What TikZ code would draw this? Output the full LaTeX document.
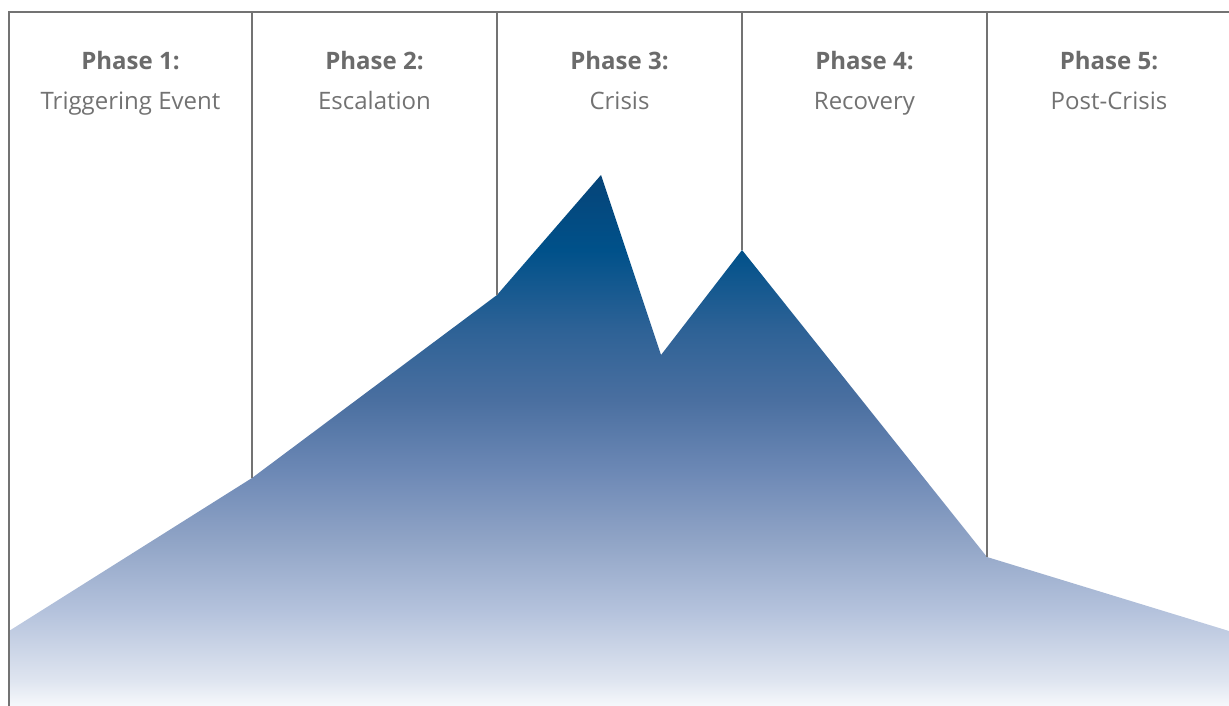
\documentclass[tikz,border=0pt]{standalone}
\usepackage{fontspec}
\setmainfont{Open Sans}
\definecolor{linegray}{HTML}{737373}
\definecolor{textgray}{HTML}{6B6B6B}
\definecolor{subgray}{HTML}{727272}
\definecolor{sA}{HTML}{F6F8FB}
\definecolor{sB}{HTML}{DFE5F0}
\definecolor{sC}{HTML}{B4C2DC}
\definecolor{sD}{HTML}{90A4C6}
\definecolor{sE}{HTML}{6C88B5}
\definecolor{sF}{HTML}{4A6FA0}
\definecolor{sG}{HTML}{2E6296}
\definecolor{sH}{HTML}{00518A}
\definecolor{sI}{HTML}{064478}
% bbox y 175..706 maps to 75bp..25bp
\pgfdeclareverticalshading{mountain}{100bp}{%
  color(0bp)=(sA); color(25bp)=(sA);
  color(27.4bp)=(sB); color(34bp)=(sC); color(40.6bp)=(sD);
  color(47.2bp)=(sE); color(53.8bp)=(sF); color(60.4bp)=(sG);
  color(67.9bp)=(sH); color(75bp)=(sI); color(100bp)=(sI)}
\tikzset{
  frame/.style={draw=linegray, line width=1.6pt},
  phasetitle/.style={anchor=base, text=textgray, font=\fontsize{24}{28}\selectfont\bfseries, inner sep=0pt},
  phasesub/.style={anchor=base, text=subgray, font=\fontsize{24}{28}\selectfont, inner sep=0pt},
}
\begin{document}
\begin{tikzpicture}[x=1pt, y=-1pt]
\useasboundingbox (0,0) rectangle (1229,706);
% mountain
\shade[shading=mountain] (9,631) -- (252,478) -- (497,295) -- (601,175) -- (661,355) -- (742,250) -- (987,557) -- (1229,631) -- (1229,706) -- (9,706) -- cycle;
% frame
\coordinate (tl) at (9,12);
\coordinate (tr) at (1229,12);
\coordinate (bl) at (9,706);
\draw[frame] (tr) -- (tl) -- (bl);
\coordinate (t1) at (252,12); \coordinate (b1) at (252,478);
\coordinate (t2) at (497,12); \coordinate (b2) at (497,295);
\coordinate (t3) at (742,12); \coordinate (b3) at (742,250);
\coordinate (t4) at (987,12); \coordinate (b4) at (987,557);
\draw[frame] (t1) -- (b1);
\draw[frame] (t2) -- (b2);
\draw[frame] (t3) -- (b3);
\draw[frame] (t4) -- (b4);
% labels
\node[phasetitle] (p1) at (130.5,70) {Phase 1:};
\node[phasesub] (s1) at (130.5,110) {Triggering Event};
\node[phasetitle] (p2) at (374.5,70) {Phase 2:};
\node[phasesub] (s2) at (374.5,110) {Escalation};
\node[phasetitle] (p3) at (619.5,70) {Phase 3:};
\node[phasesub] (s3) at (619.5,110) {Crisis};
\node[phasetitle] (p4) at (864.5,70) {Phase 4:};
\node[phasesub] (s4) at (864.5,110) {Recovery};
\node[phasetitle] (p5) at (1109,70) {Phase 5:};
\node[phasesub] (s5) at (1109,110) {Post-Crisis};
\end{tikzpicture}
\end{document}
